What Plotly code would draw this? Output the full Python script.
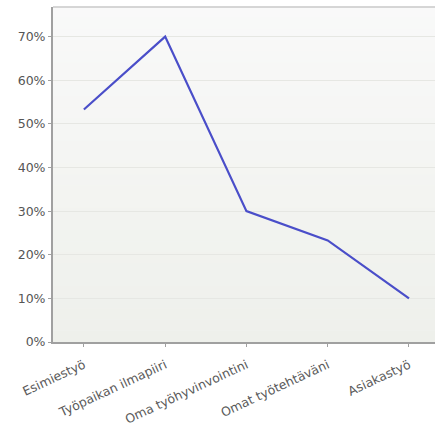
import plotly.graph_objects as go

categories = ["Esimiestyö", "Työpaikan ilmapiiri", "Oma työhyvinvointini", "Omat työtehtäväni", "Asiakastyö"]
values = [53.3, 70.0, 30.0, 23.3, 10.0]
tick_vals = [0, 10, 20, 30, 40, 50, 60, 70]
tick_text = ["0%", "10%", "20%", "30%", "40%", "50%", "60%", "70%"]

fig = go.Figure()
fig.add_trace(go.Scatter(
    x=list(range(len(categories))), y=values, mode="lines",
    line=dict(color="#4a4ec9", width=2.2), hoverinfo="skip", showlegend=False,
))

# vertical background gradient
n = 30
top = (249, 249, 249)
bot = (238, 240, 235)
shapes = []
for i in range(n):
    t = (i + 0.5) / n
    c = tuple(round(top[k] + (bot[k] - top[k]) * t) for k in range(3))
    shapes.append(dict(type="rect", xref="x domain", yref="y domain",
                       x0=0, x1=1, y0=1 - (i + 1) / n, y1=1 - i / n + 0.001,
                       line=dict(width=0), fillcolor="rgb(%d,%d,%d)" % c, layer="below"))
# top border
shapes.append(dict(type="line", xref="x domain", yref="y domain", x0=0, x1=1, y0=1, y1=1,
                   line=dict(color="#c8c8c8", width=1.5)))

fig.update_layout(
    width=435, height=427,
    margin=dict(l=53, r=0, t=7, b=85),
    paper_bgcolor="white", plot_bgcolor="#f4f5f2",
    shapes=shapes,
    font=dict(family="DejaVu Sans, sans-serif", size=12, color="#555555"),
    xaxis=dict(
        range=[-0.38, 4.32], automargin=False,
        tickmode="array", tickvals=list(range(len(categories))), ticktext=categories,
        tickangle=-25, showgrid=False, zeroline=False,
        showline=True, linecolor="#a0a0a0", linewidth=2,
        ticks="outside", ticklen=3, tickcolor="#a0a0a0",
        ticklabelstandoff=6,
        tickfont=dict(family="DejaVu Sans, sans-serif", size=12.5, color="#5a5a5a"), fixedrange=True,
    ),
    yaxis=dict(
        range=[0, 76.8], automargin=False,
        tickmode="array", tickvals=tick_vals, ticktext=tick_text,
        showgrid=True, gridcolor="#e6e7e3", gridwidth=1, zeroline=False,
        showline=True, linecolor="#a0a0a0", linewidth=2,
        ticks="outside", ticklen=3, tickcolor="#a0a0a0",
        tickfont=dict(family="DejaVu Sans, sans-serif", size=12.5, color="#555555"), fixedrange=True,
    ),
)

fig.write_html("out.html")
